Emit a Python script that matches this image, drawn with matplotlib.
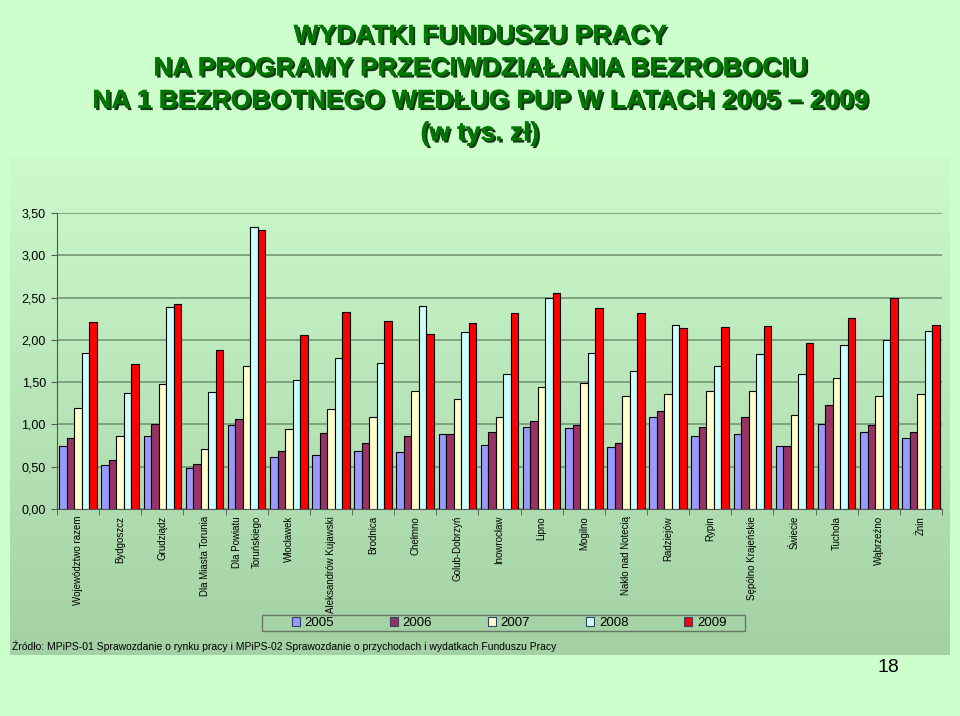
import matplotlib
matplotlib.use("Agg")
import matplotlib.pyplot as plt
import matplotlib.patheffects as pe
from matplotlib.patches import Rectangle
import numpy as np

plt.rcParams['font.family'] = ['Liberation Sans', 'DejaVu Sans']

# Dane: wydatki FP na 1 bezrobotnego (tys. zł)
powiaty = ["Województwo razem", "Bydgoszcz", "Grudziądz", "Dla Miasta Torunia",
           "Dla Powiatu\nToruńskiego", "Włocławek", "Aleksandrów Kujawski", "Brodnica",
           "Chełmno", "Golub-Dobrzyń", "Inowrocław", "Lipno", "Mogilno",
           "Nakło nad Notecią", "Radziejów", "Rypin", "Sępólno Krajeńskie",
           "Świecie", "Tuchola", "Wąbrzeźno", "Żnin"]
lata = ["2005", "2006", "2007", "2008", "2009"]
w2005 = [0.75, 0.52, 0.86, 0.49, 0.99, 0.61, 0.64, 0.69, 0.67, 0.89, 0.76,
         0.97, 0.96, 0.73, 1.09, 0.86, 0.89, 0.74, 1.01, 0.91, 0.84]
w2006 = [0.84, 0.58, 1.00, 0.53, 1.07, 0.69, 0.90, 0.78, 0.86, 0.89, 0.91,
         1.04, 0.99, 0.78, 1.16, 0.97, 1.09, 0.75, 1.23, 0.99, 0.91]
w2007 = [1.19, 0.86, 1.48, 0.71, 1.69, 0.95, 1.18, 1.09, 1.40, 1.30, 1.09,
         1.44, 1.49, 1.34, 1.36, 1.40, 1.40, 1.11, 1.55, 1.34, 1.36]
w2008 = [1.84, 1.37, 2.39, 1.38, 3.33, 1.53, 1.79, 1.73, 2.40, 2.09, 1.60,
         2.50, 1.84, 1.63, 2.17, 1.69, 1.83, 1.60, 1.94, 2.00, 2.10]
w2009 = [2.21, 1.71, 2.42, 1.88, 3.30, 2.06, 2.33, 2.22, 2.07, 2.20, 2.32,
         2.55, 2.38, 2.32, 2.14, 2.15, 2.16, 1.96, 2.26, 2.49, 2.17]
serie = [w2005, w2006, w2007, w2008, w2009]
kolory = ["#9999FF", "#993366", "#FFFFCC", "#CCFFFF", "#FF0000"]

fig = plt.figure(figsize=(9.6, 7.16), dpi=100, facecolor="#CCFFCC")

# tło wykresu z gradientem
tlo = fig.add_axes([10/960, 1-655/716, 940/960, (655-158)/716], zorder=0)
grad = np.linspace(0, 1, 256).reshape(-1, 1)
gora = np.array([0.80, 0.98, 0.80])
dol = np.array([0.64, 0.82, 0.64])
img = gora[None, None, :] * (1 - grad[:, :, None]) + dol[None, None, :] * grad[:, :, None]
tlo.imshow(img, aspect="auto", extent=[0, 1, 0, 1])
tlo.axis("off")

ax = fig.add_axes([57/960, 1-509/716, (942-57)/960, (509-213)/716], zorder=1)
ax.patch.set_alpha(0)

x = np.arange(len(powiaty))
szer = 0.178
for i, (rok, dane, kol) in enumerate(zip(lata, serie, kolory)):
    ax.bar(x + (i - 2) * szer, dane, szer, color=kol, edgecolor="black",
           linewidth=0.8, label=rok, zorder=3)

ax.set_xlim(-0.5, len(powiaty) - 0.5)
ax.set_ylim(0, 3.5)
ticks = np.arange(0, 3.51, 0.5)
ax.set_yticks(ticks)
ax.set_yticklabels([f"{t:.2f}".replace(".", ",") for t in ticks], fontsize=9)
ax.yaxis.grid(True, color="#6F8F6F", linewidth=1.1, zorder=0)
ax.set_axisbelow(True)

ax.set_xticks(x)
ax.set_xticklabels(powiaty, rotation=90, va="top", ha="center", fontsize=7,
                   linespacing=2.2)
ax.set_xticks(np.arange(len(powiaty) + 1) - 0.5, minor=True)
ax.tick_params(axis="x", which="major", length=0, pad=5)
ax.tick_params(axis="x", which="minor", length=4, color="#555555")
ax.tick_params(axis="y", length=4, color="#555555", pad=4)

for s in ["top", "right"]:
    ax.spines[s].set_visible(False)
ax.spines["left"].set_color("#555555")
ax.spines["bottom"].set_color("#555555")

# ramka legendy
fig.patches.append(Rectangle((262/960, 1-631/716), (745-262)/960, 16/716,
                             transform=fig.transFigure, facecolor="none",
                             edgecolor="#667766", linewidth=1, zorder=4))
leg = fig.legend(loc="center left", bbox_to_anchor=(292/960, 1-623/716), ncol=5,
                 fontsize=9.5, frameon=False, handlelength=0.6, handleheight=0.6,
                 columnspacing=4.25, handletextpad=0.35, borderpad=0,
                 borderaxespad=0)
for h in leg.legend_handles:
    h.set_edgecolor("#334466")
leg.set_zorder(5)

fig.text(12/960, 1-646/716,
         "Źródło: MPiPS-01 Sprawozdanie o rynku pracy i MPiPS-02 Sprawozdanie o przychodach i wydatkach Funduszu Pracy",
         fontsize=7.5, va="center", ha="left", zorder=5)

tytul = ["WYDATKI FUNDUSZU PRACY",
         "NA PROGRAMY PRZECIWDZIAŁANIA BEZROBOCIU",
         "NA 1 BEZROBOTNEGO WEDŁUG PUP W LATACH 2005 – 2009",
         "(w tys. zł)"]
for k, linia in enumerate(tytul):
    fig.text(0.5, 1-(36 + k*32.5)/716, linia, ha="center", va="center",
             fontsize=19, fontweight="bold", color="#007700",
             path_effects=[pe.withSimplePatchShadow(offset=(1.5, -1.5),
                                                    shadow_rgbFace="#002200", alpha=0.9),
                           pe.Normal()])

fig.text(888/960, 1-668/716, "18", fontsize=14, ha="center", va="center")

fig.savefig("out.png", dpi=100, facecolor=fig.get_facecolor())
